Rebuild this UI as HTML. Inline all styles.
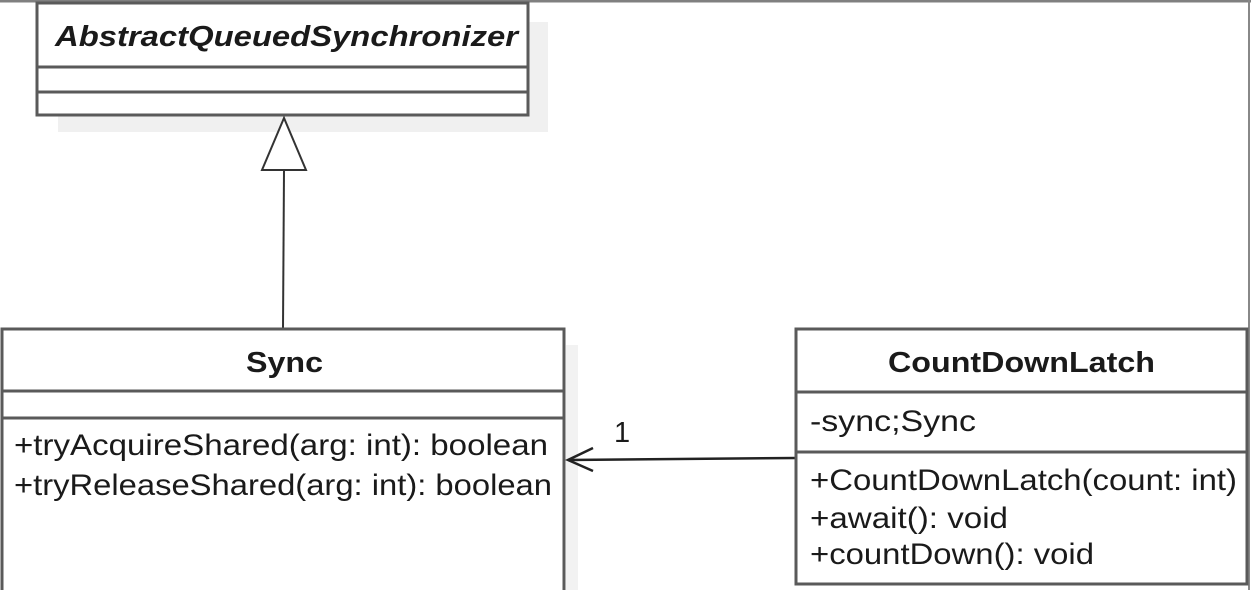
<!DOCTYPE html>
<html><head><meta charset="utf-8"><style>
html,body{margin:0;padding:0;background:#fff;}
body{width:1251px;height:590px;overflow:hidden;position:relative;}
svg{position:absolute;left:0;top:0;}
text{font-family:"Liberation Sans",sans-serif;fill:#1a1a1a;}
</style></head><body>
<svg width="1251" height="590" viewBox="0 0 1251 590">
<line x1="0" y1="1" x2="1251" y2="1" stroke="#808080" stroke-width="3"/>
<line x1="1249" y1="0" x2="1249" y2="590" stroke="#888" stroke-width="2"/>
<rect x="58" y="22" width="490" height="110" fill="#f0f0f0"/>
<rect x="37" y="3" width="491" height="112" fill="#fff" stroke="#5a5a5a" stroke-width="3"/>
<line x1="37" y1="67" x2="528" y2="67" stroke="#5a5a5a" stroke-width="3"/>
<line x1="37" y1="92" x2="528" y2="92" stroke="#5a5a5a" stroke-width="3"/>
<text x="55" y="46" font-size="29" font-weight="bold" font-style="italic" textLength="463" lengthAdjust="spacingAndGlyphs">AbstractQueuedSynchronizer</text>
<line x1="284" y1="170" x2="283" y2="328" stroke="#333" stroke-width="2"/>
<polygon points="284,118 262,170 306,170" fill="#fff" stroke="#333" stroke-width="2"/>
<rect x="566" y="345" width="12" height="245" fill="#f2f2f2"/>
<rect x="2" y="329" width="562" height="270" fill="#fff" stroke="#5a5a5a" stroke-width="3"/>
<line x1="2" y1="391" x2="564" y2="391" stroke="#5a5a5a" stroke-width="3"/>
<line x1="2" y1="418" x2="564" y2="418" stroke="#5a5a5a" stroke-width="3"/>
<text x="246" y="372" font-size="29" font-weight="bold" textLength="77" lengthAdjust="spacingAndGlyphs">Sync</text>
<text x="14" y="455" font-size="30" textLength="534" lengthAdjust="spacingAndGlyphs">+tryAcquireShared(arg: int): boolean</text>
<text x="14" y="495" font-size="30" textLength="538" lengthAdjust="spacingAndGlyphs">+tryReleaseShared(arg: int): boolean</text>
<line x1="796" y1="458" x2="568" y2="460" stroke="#222" stroke-width="2.5"/>
<polyline points="593,448 568,460 593,471" fill="none" stroke="#222" stroke-width="2.5"/>
<text x="614" y="442" font-size="29">1</text>
<rect x="796" y="329" width="451" height="255" fill="#fff" stroke="#5a5a5a" stroke-width="3"/>
<line x1="796" y1="392" x2="1247" y2="392" stroke="#5a5a5a" stroke-width="3"/>
<line x1="796" y1="452" x2="1247" y2="452" stroke="#5a5a5a" stroke-width="3"/>
<text x="888" y="372" font-size="29" font-weight="bold" textLength="267" lengthAdjust="spacingAndGlyphs">CountDownLatch</text>
<text x="810" y="431" font-size="30" textLength="166" lengthAdjust="spacingAndGlyphs">-sync;Sync</text>
<text x="810" y="490" font-size="30" textLength="427" lengthAdjust="spacingAndGlyphs">+CountDownLatch(count: int)</text>
<text x="810" y="528" font-size="30" textLength="198" lengthAdjust="spacingAndGlyphs">+await(): void</text>
<text x="810" y="564" font-size="30" textLength="284" lengthAdjust="spacingAndGlyphs">+countDown(): void</text>
</svg>
</body></html>
